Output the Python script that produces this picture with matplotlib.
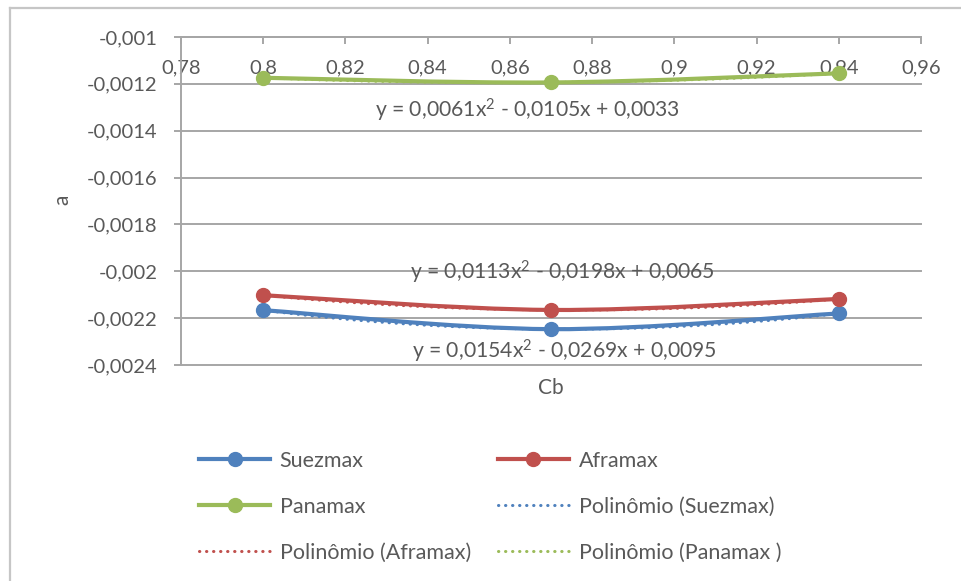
import numpy as np
import matplotlib
matplotlib.use("Agg")
import matplotlib.pyplot as plt
from matplotlib.lines import Line2D
from matplotlib.path import Path
from matplotlib.patches import PathPatch

# Block coefficient (Cb) and fitted coefficient "a" for each vessel class
cb = [0.80, 0.87, 0.94]
suezmax = [-0.002166, -0.002247, -0.002180]
aframax = [-0.002102, -0.002165, -0.002118]
panamax = [-0.001174, -0.001194, -0.001155]

series_names = ["Suezmax", "Aframax", "Panamax"]
trend_names = ["Polinômio (Suezmax)", "Polinômio (Aframax)", "Polinômio (Panamax )"]
equations = [
    r"y = 0,0154x$^{\mathregular{2}}$ - 0,0269x + 0,0095",
    r"y = 0,0113x$^{\mathregular{2}}$ - 0,0198x + 0,0065",
    r"y = 0,0061x$^{\mathregular{2}}$ - 0,0105x + 0,0033",
]
colors = ["#4F81BD", "#C0504D", "#9BBB59"]

x_ticks = [0.78, 0.80, 0.82, 0.84, 0.86, 0.88, 0.90, 0.92, 0.94, 0.96]
x_tick_labels = ["0,78", "0,8", "0,82", "0,84", "0,86", "0,88", "0,9", "0,92", "0,94", "0,96"]
y_ticks = [-0.0010, -0.0012, -0.0014, -0.0016, -0.0018, -0.0020, -0.0022, -0.0024]
y_tick_labels = ["-0,001", "-0,0012", "-0,0014", "-0,0016", "-0,0018", "-0,002", "-0,0022", "-0,0024"]

TEXT = "#595959"
AXIS = "#a6a6a6"
FS = 14.5
plt.rcParams["font.family"] = ["Lato", "DejaVu Sans"]
plt.rcParams["mathtext.fontset"] = "custom"
plt.rcParams["mathtext.rm"] = "Lato"
plt.rcParams["mathtext.it"] = "Lato:italic"


def smooth_path(xv, yv):
    """Catmull-Rom style smoothed line through the points, as cubic Beziers."""
    pts = np.column_stack([xv, yv]).astype(float)
    n = len(pts)
    verts = [pts[0]]
    codes = [Path.MOVETO]
    for i in range(n - 1):
        p_prev = pts[i - 1] if i > 0 else pts[i]
        p_next = pts[i + 2] if i + 2 < n else pts[i + 1]
        c1 = pts[i] + (pts[i + 1] - p_prev) / 6.0
        c2 = pts[i + 1] - (p_next - pts[i]) / 6.0
        verts += [c1, c2, pts[i + 1]]
        codes += [Path.CURVE4] * 3
    return Path(verts, codes)


W, H = 961, 581
fig = plt.figure(figsize=(W / 100, H / 100), dpi=100)
fig.patch.set_facecolor("white")

# chart-area frame (left and top edges)
fig.add_artist(Line2D([10 / W, 10 / W], [0, 1 - 8 / H], color="#c6c6c6", lw=1.6))
fig.add_artist(Line2D([10 / W, 1], [1 - 8 / H, 1 - 8 / H], color="#c6c6c6", lw=1.6))

ax = fig.add_axes([181 / W, 1 - 365 / H, 740 / W, 328 / H])
ax.set_xlim(0.78, 0.96)
ax.set_ylim(-0.0024, -0.0010)

series = [suezmax, aframax, panamax]
handles = []
trend_handles = []
xs = np.linspace(cb[0], cb[-1], 200)
for vals, col in zip(series, colors):
    ax.add_patch(PathPatch(smooth_path(cb, vals), facecolor="none", edgecolor=col,
                           lw=3, capstyle="round", joinstyle="round", zorder=3))
    ax.plot(cb, vals, linestyle="none", marker="o", ms=10, color=col, zorder=3.5)
    handles.append(Line2D([], [], color=col, lw=3, marker="o", ms=10))
for vals, col in zip(series, colors):
    coef = np.polyfit(cb, vals, 2)
    t, = ax.plot(xs, np.polyval(coef, xs), color=col, lw=2.2,
                 linestyle=(0, (0.1, 2.2)), dash_capstyle="round", zorder=4)
    trend_handles.append(t)

# trendline equations
eq_pos = [(0.8732, -0.002340), (0.8727, -0.002004), (0.8644, -0.001315)]
for (ex, ey), txt in zip(eq_pos, equations):
    ax.text(ex, ey, txt, ha="center", va="center", fontsize=15.2, color=TEXT, zorder=5)

# axes styling: horizontal axis sits at the top (y = -0,001)
for s in ["top", "right"]:
    ax.spines[s].set_visible(False)
ax.spines["bottom"].set_position(("axes", 1.0))
ax.spines["bottom"].set_color(AXIS)
ax.spines["left"].set_color(AXIS)
ax.spines["bottom"].set_linewidth(1.4)
ax.spines["left"].set_linewidth(1.4)

ax.set_xticks(x_ticks)
ax.set_xticklabels(x_tick_labels)
ax.set_yticks(y_ticks)
ax.set_yticklabels(y_tick_labels)
ax.tick_params(axis="x", direction="out", length=5, width=1.4, color=AXIS,
               labelsize=FS, labelcolor=TEXT, pad=11)
ax.tick_params(axis="y", direction="out", length=5, width=1.4, color=AXIS,
               labelsize=FS, labelcolor=TEXT, pad=12)
ax.yaxis.grid(True, color=AXIS, lw=1.4, zorder=0)
ax.set_axisbelow(True)
for gl in ax.yaxis.get_gridlines():
    gl.set_clip_on(False)

ax.text(0.5, -0.07, "Cb", transform=ax.transAxes, ha="center", va="center",
        fontsize=15, color=TEXT)
fig.text(62 / W, 1 - 200 / H, "a", rotation=90, ha="center", va="center",
         fontsize=15, color=TEXT)

# legend: two columns, filled column-wise
leg_handles = [handles[0], handles[2], trend_handles[1],
               handles[1], trend_handles[0], trend_handles[2]]
leg_labels = [series_names[0], series_names[2], trend_names[1],
              series_names[1], trend_names[0], trend_names[2]]
leg = fig.legend(leg_handles, leg_labels, ncol=2, loc="upper left",
                 bbox_to_anchor=(199 / W, 1 - 451 / H), frameon=False,
                 fontsize=15.5, labelcolor=TEXT, handlelength=3.3,
                 handletextpad=0.45, columnspacing=1.25, labelspacing=1.2,
                 borderpad=0, borderaxespad=0)

fig.savefig("out.png", dpi=100)
